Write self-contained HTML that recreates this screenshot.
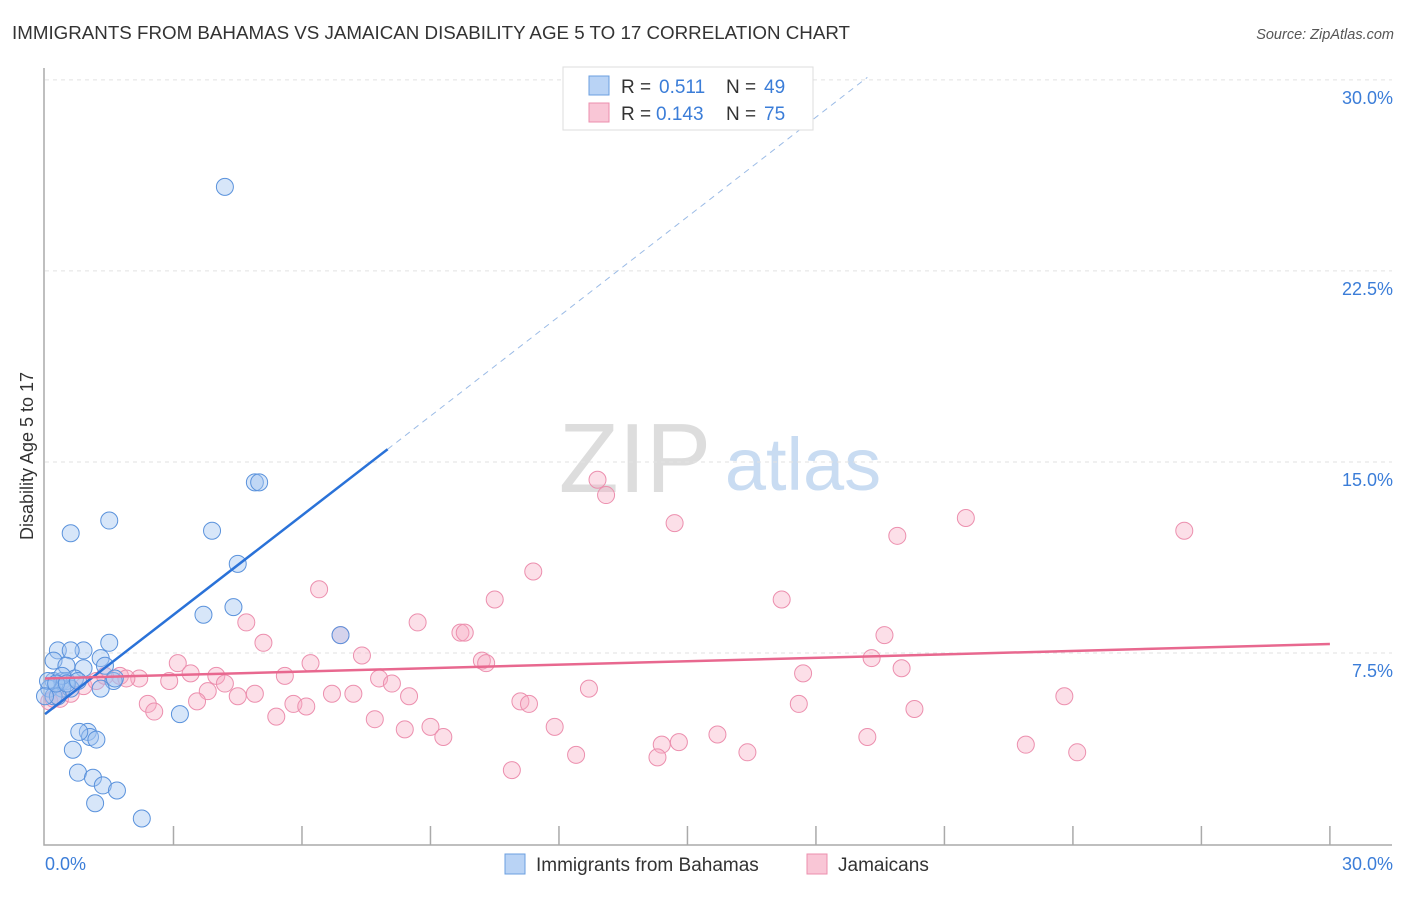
<!DOCTYPE html>
<html><head><meta charset="utf-8"><style>
body{margin:0;background:#fff;font-family:"Liberation Sans",sans-serif}
svg text{font-family:"Liberation Sans",sans-serif}
</style></head><body>
<svg id="c" width="1406" height="892" viewBox="0 0 1406 892">
<text x="12" y="39" font-size="18" fill="#333" textLength="838" lengthAdjust="spacingAndGlyphs">IMMIGRANTS FROM BAHAMAS VS JAMAICAN DISABILITY AGE 5 TO 17 CORRELATION CHART</text>
<text x="1394" y="39" font-size="14.5" fill="#555" font-style="italic" text-anchor="end">Source: ZipAtlas.com</text>
<text x="33" y="456" font-size="18" fill="#333" text-anchor="middle" transform="rotate(-90 33 456)">Disability Age 5 to 17</text>
<g><text x="635" y="492" font-size="98" fill="#ddd" font-family="Liberation Serif" text-anchor="middle">ZIP</text><text x="803" y="490" font-size="74" fill="#c9dcf2" text-anchor="middle">atlas</text></g>
<g id="grid"></g><g id="pts"></g><g id="lines"></g>
<g>
<rect x="563" y="67" width="250" height="63" fill="#fff" stroke="#ddd"/>
<rect x="589" y="76" width="20" height="19" fill="#b9d3f5" stroke="#6b9fe0"/>
<rect x="589" y="103" width="20" height="19" fill="#f9c6d6" stroke="#ec8fae"/>
<text y="93" font-size="19" fill="#333"><tspan x="621">R =</tspan><tspan x="659" fill="#3b7dd8">0.511</tspan><tspan x="726">N =</tspan><tspan x="764" fill="#3b7dd8">49</tspan></text>
<text y="120" font-size="19" fill="#333"><tspan x="621">R =</tspan><tspan x="656" fill="#3b7dd8">0.143</tspan><tspan x="726">N =</tspan><tspan x="764" fill="#3b7dd8">75</tspan></text>
</g>
<g>
<rect x="505" y="854" width="20" height="20" fill="#b9d3f5" stroke="#6b9fe0"/>
<text x="536" y="871" font-size="19" fill="#333">Immigrants from Bahamas</text>
<rect x="807" y="854" width="20" height="20" fill="#f9c6d6" stroke="#ec8fae"/>
<text x="838" y="871" font-size="19" fill="#333">Jamaicans</text>
</g>
</svg>
<script>
const yTicks=[7.5,15,22.5,30];
const yTickLabels=["7.5%","15.0%","22.5%","30.0%"];
const xTickLabels=["0.0%","30.0%"];
const blueX=[4.2,0.6,1.5,3.9,4.9,5.0,4.5,3.7,4.4,6.9,1.5,0.9,0.3,0.6,0.2,1.3,0.5,0.9,1.4,0.2,0.4,0.5,0.7,0.1,0.4,0.6,1.6,1.3,0.2,0.3,1.0,1.05,1.2,0.8,0.65,3.15,0.77,1.12,1.35,1.68,1.17,2.26,0.4,0.07,0.26,0.51,0.0,0.77,1.63];
const blueY=[25.8,12.2,12.7,12.3,14.2,14.2,11.0,9.0,9.3,8.2,7.9,7.6,7.6,7.6,7.2,7.3,7.0,6.9,7.0,6.4,6.4,6.4,6.5,6.1,6.1,6.1,6.4,6.1,5.8,5.8,4.4,4.2,4.1,4.4,3.7,5.1,2.8,2.6,2.3,2.1,1.6,1.0,6.6,6.4,6.3,6.3,5.8,6.4,6.5];
const pinkX=[12.9,13.1,14.7,21.5,19.9,26.6,11.4,6.4,10.5,17.2,4.7,8.7,9.7,9.8,19.6,6.9,5.1,7.4,10.2,10.3,19.3,20.0,6.2,3.1,3.4,4.0,5.6,17.7,1.75,2.2,1.9,2.9,4.2,7.8,8.1,3.8,4.5,4.9,6.7,7.2,8.5,12.7,3.55,5.8,6.1,2.4,2.55,11.1,11.3,17.6,20.3,23.8,5.4,7.7,8.4,9.0,9.3,11.9,15.7,14.4,14.8,19.2,16.4,12.4,14.3,22.9,24.1,10.9,0.35,0.1,0.9,1.2,1.4,0.6,0.2];
const pinkY=[14.3,13.7,12.6,12.8,12.1,12.3,10.7,10.0,9.6,9.6,8.7,8.7,8.3,8.3,8.2,8.2,7.9,7.4,7.2,7.1,7.3,6.9,7.1,7.1,6.7,6.6,6.6,6.7,6.6,6.5,6.5,6.4,6.3,6.5,6.3,6.0,5.8,5.9,5.9,5.9,5.8,6.1,5.6,5.5,5.4,5.5,5.2,5.6,5.5,5.5,5.3,5.8,5.0,4.9,4.5,4.6,4.2,4.6,4.3,3.9,4.0,4.2,3.6,3.5,3.4,3.9,3.6,2.9,5.7,5.6,6.2,6.4,6.6,5.9,5.7];
const blueLine=[[0,5.1],[8.0,15.5]], blueDash=[[8.0,15.5],[19.2,30.1]], pinkLine=[[0,6.5],[30,7.85]];
const X=v=>45+v*42.83, Y=v=>844-v*25.47;
const NS="http://www.w3.org/2000/svg";
function mk(t,a,p){const e=document.createElementNS(NS,t);for(const k in a)e.setAttribute(k,a[k]);p.appendChild(e);return e;}
const g=document.getElementById('grid');
yTicks.forEach((t,i)=>{
 const l=mk('line',{x1:45,x2:1392,y1:Y(t),y2:Y(t),stroke:'#e2e2e2','stroke-dasharray':'4,4'},g);
 
 
 const tx=mk('text',{x:1393,y:Y(t)+24,'font-size':18,fill:'#3b7dd8','text-anchor':'end'},g);tx.textContent=yTickLabels[i];
 
 
});
const ax=mk('path',{d:'M44 68V845H1392',stroke:'#aaa',fill:'none','stroke-width':1.5},g);


for(let i=1;i<=10;i++){const t=mk('line',{x1:X(i*3),x2:X(i*3),y1:826,y2:845,stroke:'#aaa','stroke-width':1.5},g);
 
 }
[[0,'start',45],[30,'end',1393]].forEach((d,i)=>{const t=mk('text',{x:d[2],y:870,'font-size':18,fill:'#3b7dd8','text-anchor':d[1]},g);t.textContent=xTickLabels[i];
 
 });
const p=document.getElementById('pts');
pinkX.forEach((x,i)=>{const c=mk('circle',{cx:X(x),cy:Y(pinkY[i]),r:8.5,fill:'rgba(246,170,195,0.38)',stroke:'#ec8fae','stroke-width':1},p);
 
 });
blueX.forEach((x,i)=>{const c=mk('circle',{cx:X(x),cy:Y(blueY[i]),r:8.5,fill:'rgba(160,195,240,0.42)',stroke:'#5a92dc','stroke-width':1},p);
 
 });
const L=document.getElementById('lines');
let e=mk('line',{x1:X(blueDash[0][0]),y1:Y(blueDash[0][1]),x2:X(blueDash[1][0]),y2:Y(blueDash[1][1]),stroke:'#9bbbe6','stroke-dasharray':'6,5','stroke-width':1},L);


e=mk('line',{x1:X(blueLine[0][0]),y1:Y(blueLine[0][1]),x2:X(blueLine[1][0]),y2:Y(blueLine[1][1]),stroke:'#2a72d8','stroke-width':2.5},L);


e=mk('line',{x1:X(pinkLine[0][0]),y1:Y(pinkLine[0][1]),x2:X(pinkLine[1][0]),y2:Y(pinkLine[1][1]),stroke:'#e8688f','stroke-width':2.5},L);


</script>
</body></html>
